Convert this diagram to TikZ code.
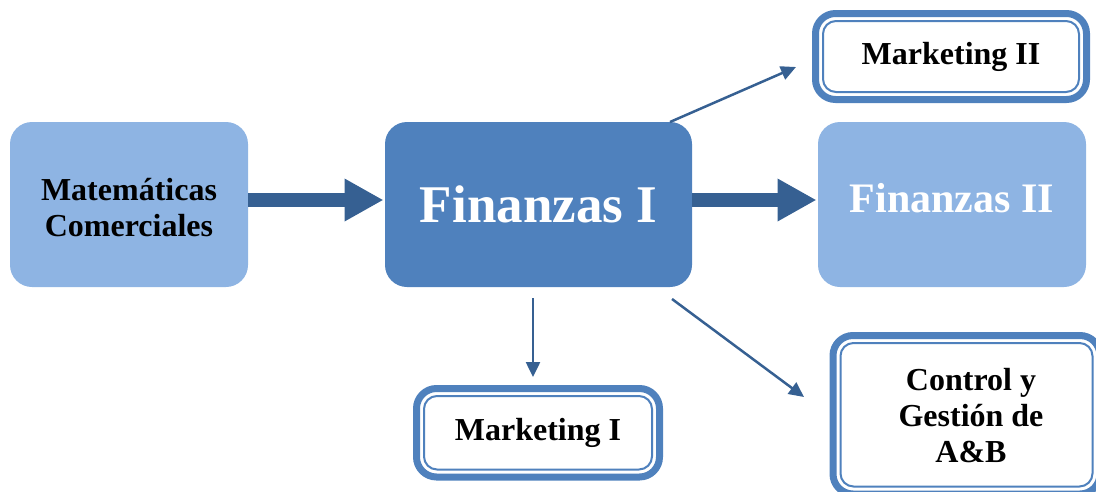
\documentclass[tikz,border=0pt]{standalone}
\usepackage{fontspec}
\setmainfont{Liberation Serif}
\usetikzlibrary{arrows.meta,calc}
\definecolor{dkblue}{HTML}{4F81BD}
\definecolor{ltblue}{HTML}{8EB4E3}
\definecolor{arrblue}{HTML}{366092}
\begin{document}
\begin{tikzpicture}[x=1pt,y=-1pt,
  box/.style={rounded corners=22pt, inner sep=0pt, outer sep=0pt, align=center,
    font=\bfseries\fontsize{32}{36}\selectfont},
  dbl/.style={box, draw=dkblue, line width=7pt, fill=white, rounded corners=20pt},
  innerline/.style={draw=dkblue, line width=2pt, rounded corners=13pt},
  fat/.style={arrblue, line width=14pt, -{Triangle[length=39pt,width=40pt]}},
  thin/.style={arrblue, line width=2.5pt, -{Triangle[length=15pt,width=14pt]}}]
\useasboundingbox (0,0) rectangle (1096,491);
% main boxes
\node[box, fill=ltblue, minimum width=238pt, minimum height=165pt,
  text height=63pt, text depth=0pt] (mc) at (129,204.5) {Matemáticas\\Comerciales};
\node[box, fill=dkblue, text=white, minimum width=307pt, minimum height=165pt,
  font=\bfseries\fontsize{53}{60}\selectfont] (f1) at (538.5,204.5) {Finanzas I};
\node[box, fill=ltblue, text=white, minimum width=268pt, minimum height=165pt,
  text height=29pt, text depth=13.4pt,
  font=\bfseries\fontsize{42}{48}\selectfont] (f2) at (952,204.5) {Finanzas II};
% double-border boxes
\node[dbl, minimum width=271pt, minimum height=86pt] (m2) at (951,56.5) {Marketing II};
\draw[innerline] ([shift={(7.5pt,-7.5pt)}]m2.north west) rectangle ([shift={(-7.5pt,7.5pt)}]m2.south east);
\node[dbl, minimum width=243pt, minimum height=88.5pt] (m1) at (538,432.75) {Marketing I};
\draw[innerline] ([shift={(7.5pt,-7.5pt)}]m1.north west) rectangle ([shift={(-7.5pt,7.5pt)}]m1.south east);
\node[dbl, minimum width=267pt, minimum height=158.5pt, text height=95.9pt, text depth=0pt,
  font=\bfseries\fontsize{32}{36.3}\selectfont] (ctrl) at (966.5,414.75)
  {\hspace*{9pt}Control y\\\hspace*{9pt}Gestión de\\\hspace*{9pt}A\&B};
\draw[innerline] ([shift={(7.5pt,-7.5pt)}]ctrl.north west) rectangle ([shift={(-7.5pt,7.5pt)}]ctrl.south east);
% fat arrows
\draw[fat] (mc.east |- 0,200) -- ([xshift=-1.5pt]f1.west |- 0,200);
\draw[fat] (f1.east |- 0,200) -- ([xshift=-1.5pt]f2.west |- 0,200);
% thin arrows
\coordinate (a1s) at ($(f1.north east)+(-22,0)$);
\coordinate (a1e) at ($(m2.west)+(-19.5,10.5)$);
\coordinate (a2s) at ($(f1.south)+(-5.5,11)$);
\coordinate (a2e) at ($(m1.north)+(-5,-11.5)$);
\coordinate (a3s) at ($(f1.south east)+(-20,12)$);
\coordinate (a3e) at ($(ctrl.west)+(-29,-17.75)$);
\draw[thin] (a1s) -- (a1e);
\draw[thin] (a2s) -- (a2e);
\draw[thin] (a3s) -- (a3e);
\end{tikzpicture}
\end{document}
